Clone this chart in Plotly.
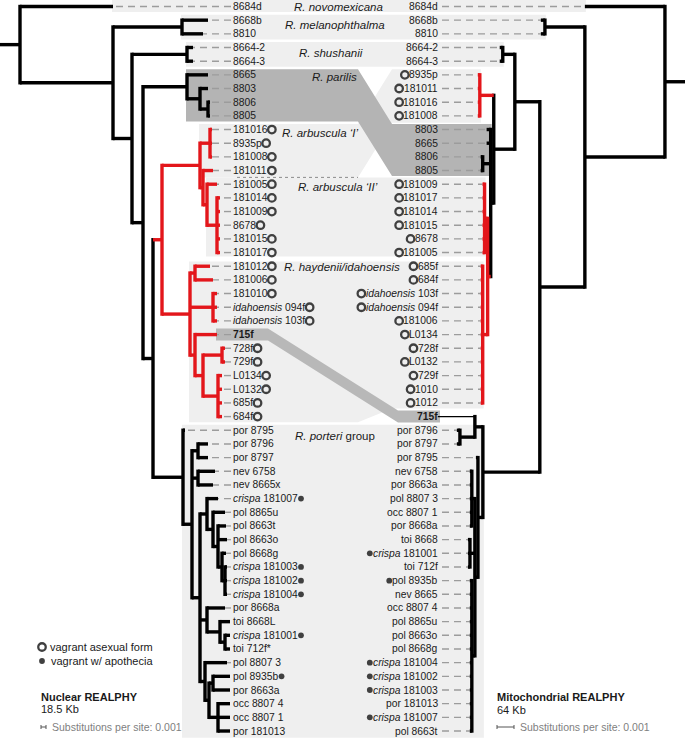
import re
import plotly.graph_objects as go

# ---------------- data ----------------
# branch lengths in units of 1e-4 substitutions per site
NUC_NEWICK = """
(8684d:186,
 ((8668b:52,8810:42)melL:138,
  ((8664-2:12,8664-3:12)shuL:110,
   ((8665:42,(8803:16,(8806:4,8805:4):16):26)parL:88,
    ((((181016:4,8935p:4,181008:4):20,
       (181011:20,(181005:20,(181014:6,181009:6,8678:6,181015:6,181017:6):20)arbIIL:8):6)arbIL:76,
      ((181012:30,181006:36):10,
       (181010:8,idahoensis 094f:8,idahoensis 103f:8):46,
       (715f:44,((728f:6,729f:6):38,(L0134:8,L0132:8,685f:8,684f:8):30):16):10)hayL:56)redL:18,
     (por 8795:4,
      ((por 8796:20,por 8797:20):12,
       (nev 6758:34,nev 8665x:30):12,
       ((crispa 181007:22,(pol 8865u:24,(pol 8663t:16,pol 8663o:18,(pol 8668g:8,(crispa 181003:4,crispa 181002:4,crispa 181004:4):6):8):10):12):14,
        (por 8668a:36,(toi 8668L:20,(crispa 181001:10,toi 712f*:10):10):26):14,
        (pol 8807 3:44,((pol 8935b:34,por 8663a:34):8,(occ 8807 4:24,occ 8807 1:24,por 181013:24):18):8):10):16):18)porL:60):20):22):38):186):40;
"""

MITO_NEWICK = """
(8684d:47.1,
 ((8668b:2.4,8810:2.4)melR:23.5,
  (((8664-2:1.8,8664-3:1.8)shuR:7.1,
    ((8935p:1.2,181011:1.2,181016:1.2,181008:1.2)redIR:8.2,
     (8803:2.4,8665:2.4,(8806:1.2,8805:1.2):4.7,
      ((181009:1.2,181017:1.2,181014:1.2,181015:1.2,8678:1.2,181005:1.2)arbIIR:1.8,
       (685f:1.2,684f:1.2,idahoensis 103f:1.2,idahoensis 094f:1.2,181006:1.2,L0134:1.2,728f:1.2,
        L0132:1.2,729f:1.2,1010:1.2,1012:1.2)hayR:2.9)RG:1.8):1.8):12.4):14.7,
   ((715f:21.8,(por 8796:1.8,por 8797:1.8):8.8):4.7,
    (por 8795:1.2,
     ((nev 6758:1.2,por 8663a:1.2,pol 8807 3:1.2,occ 8807 1:1.2,por 8668a:1.2):1.8,
      (toi 8668:1.2,crispa 181001:1.2,toi 712f:1.2):2.9,
      (pol 8935b:1.2,nev 8665:1.2,occ 8807 4:1.2,pol 8865u:1.2,pol 8663o:1.2,pol 8668g:1.2,
       crispa 181004:1.2,crispa 181002:1.2,crispa 181003:1.2,por 181013:1.2,crispa 181007:1.2,
       pol 8663t:1.2):1.8):1.8):2.9)porR:33.5):26.5):47.1):11.8;
"""

UNIT = 1e-4                 # substitutions per site per branch-length unit
SCALE_BAR = 0.001           # substitutions per site
RED_NODES = ["redL", "redIR", "RG"]

RINGS = ["181016", "8935p", "181008", "181011", "181005", "181014", "181009", "8678",
         "181015", "181017", "181012", "181006", "181010", "idahoensis 094f",
         "idahoensis 103f", "728f", "729f", "L0134", "L0132", "685f", "684f", "1010", "1012"]
DOTS = ["crispa 181007", "crispa 181003", "crispa 181002", "crispa 181004",
        "crispa 181001", "pol 8935b"]

GROUP_NAMES = ["<i>R. novomexicana</i>", "<i>R. melanophthalma</i>", "<i>R. shushanii</i>",
               "<i>R. parilis</i>", "<i>R. arbuscula ‘I’</i>", "<i>R. arbuscula ‘II’</i>",
               "<i>R. haydenii/idahoensis</i>", "<i>R. porteri</i> group"]
GROUP_LEFT = [
    ["8684d"], ["8668b", "8810"], ["8664-2", "8664-3"], ["8665", "8803", "8806", "8805"],
    ["181016", "8935p", "181008", "181011"],
    ["181005", "181014", "181009", "8678", "181015", "181017"],
    ["181012", "181006", "181010", "idahoensis 094f", "idahoensis 103f", "715f", "728f",
     "729f", "L0134", "L0132", "685f", "684f"],
    ["por 8795", "por 8796", "por 8797", "nev 6758", "nev 8665x", "crispa 181007",
     "pol 8865u", "pol 8663t", "pol 8663o", "pol 8668g", "crispa 181003", "crispa 181002",
     "crispa 181004", "por 8668a", "toi 8668L", "crispa 181001", "toi 712f*", "pol 8807 3",
     "pol 8935b", "por 8663a", "occ 8807 4", "occ 8807 1", "por 181013"],
]
GROUP_RIGHT = [
    ["8684d"], ["8668b", "8810"], ["8664-2", "8664-3"], ["8803", "8665", "8806", "8805"],
    ["8935p", "181011", "181016", "181008"],
    ["181009", "181017", "181014", "181015", "8678", "181005"],
    ["685f", "684f", "idahoensis 103f", "idahoensis 094f", "181006", "L0134", "728f",
     "L0132", "729f", "1010", "1012"],
    ["por 8796", "por 8797", "por 8795", "nev 6758", "por 8663a", "pol 8807 3", "occ 8807 1",
     "por 8668a", "toi 8668", "crispa 181001", "toi 712f", "pol 8935b", "nev 8665",
     "occ 8807 4", "pol 8865u", "pol 8663o", "pol 8668g", "crispa 181004", "crispa 181002",
     "crispa 181003", "por 181013", "crispa 181007", "pol 8663t"],
]

# ---------------- styling / layout constants ----------------
W, H = 685, 738
ROW0, STEP = 6.5, 13.67
PX_NUC = 5000.0     # px per substitution/site (0.001 -> 5 px)
PX_MITO = 17000.0   # 0.001 -> 17 px
LABEL_L, LABEL_R = 231, 440
CROSS = (358, 392)
FONT = "Liberation Sans, Arial, sans-serif"
LBL = 10.3
BLACK, RED = "#000000", "#e3161b"
LIGHT, DARK, BAND = "#efefef", "#b4b4b4", "#b8b8b8"
LW = 3.4
GROUP_SHADE = [LIGHT, LIGHT, LIGHT, DARK, LIGHT, LIGHT, LIGHT, LIGHT]
GROUP_INSET = [(0, 1.3), (1.3, 1.3), (1.3, 1.3), (1.3, 1.3), (1.3, 0), (0, 3), (2, 1.3), (1.3, 0)]
GROUP_LABEL_XY = [(338, 6.5), (335, 25), (331, 53), (334, 77), (320, 133), (338, 187),
                  (342, 267), (335, 436)]


def row_y(i):
    return ROW0 + i * STEP


def parse(s):
    s = re.sub(r"\s*([(),:;])\s*", r"\1", s.strip())
    pos = 0

    def node():
        nonlocal pos
        kids = []
        if s[pos] == "(":
            pos += 1
            while True:
                kids.append(node())
                ch = s[pos]
                pos += 1
                if ch == ")":
                    break
        st = pos
        while s[pos] not in ",():;":
            pos += 1
        name = s[st:pos].strip()
        ln = 0.0
        if s[pos] == ":":
            pos += 1
            st = pos
            while s[pos] not in ",();":
                pos += 1
            ln = float(s[st:pos])
        return {"name": name, "len": ln, "kids": kids}

    return node()


def place(tree, x0, sign, px_per_sub):
    tips = []

    def walk(n, xp, color, parent):
        n["xp"] = xp
        n["x"] = xp + sign * n["len"] * UNIT * px_per_sub
        n["parent"] = parent
        if n["name"] in RED_NODES:
            color = RED
        n["color"] = color
        if n["kids"]:
            for k in n["kids"]:
                walk(k, n["x"], color, n)
            n["y"] = (n["kids"][0]["y"] + n["kids"][-1]["y"]) / 2
        else:
            n["y"] = row_y(len(tips))
            tips.append(n)

    walk(tree, x0, BLACK, None)
    return tips


def all_nodes(n):
    yield n
    for k in n["kids"]:
        yield from all_nodes(k)


def lca(tipmap, names):
    paths = []
    for nm in names:
        p, n = [], tipmap[nm]
        while n is not None:
            p.append(n)
            n = n["parent"]
        paths.append(p[::-1])
    common = None
    for level in zip(*paths):
        if all(id(v) == id(level[0]) for v in level):
            common = level[0]
        else:
            break
    return common


nuc = parse(NUC_NEWICK)
mito = parse(MITO_NEWICK)
nuc_tips = place(nuc, 0, +1, PX_NUC)
mito_tips = place(mito, W, -1, PX_MITO)
nmap = {t["name"]: t for t in nuc_tips}
mmap = {t["name"]: t for t in mito_tips}

CW = {c: .556 for c in "0123456789"}
CW.update({" ": .278, "a": .556, "b": .556, "c": .5, "d": .556, "e": .556, "f": .278,
           "g": .556, "h": .556, "i": .222, "l": .222, "n": .556, "o": .556, "p": .556,
           "r": .333, "s": .5, "t": .278, "u": .556, "v": .5, "x": .5, "L": .556,
           "-": .333, "*": .389})


def text_w(s, size=LBL):
    return sum(CW.get(c, .556) for c in s) * size


def fmt(name):
    if name == "715f":
        return "<b>715f</b>"
    for w in ("crispa", "idahoensis"):
        if name.startswith(w + " "):
            return "<i>%s</i>%s" % (w, name[len(w):])
    return name


fig = go.Figure()
shapes, annotations = [], []


def ribbon(xl, yl0, yl1, xr, yr0, yr1, fill):
    c0, c1 = CROSS
    path = (f"M{xl},{yl0} L{c0},{yl0} L{c1},{yr0} L{xr},{yr0} L{xr},{yr1} "
            f"L{c1},{yr1} L{c0},{yl1} L{xl},{yl1} Z")
    return dict(type="path", path=path, fillcolor=fill, line=dict(width=0), layer="below")


# group boxes (light first, dark on top)
half = STEP / 2
order = sorted(range(len(GROUP_NAMES)), key=lambda i: GROUP_SHADE[i] == DARK)
for gi in order:
    lt = [nmap[n] for n in GROUP_LEFT[gi]]
    rt = [mmap[n] for n in GROUP_RIGHT[gi]]
    it, ib = GROUP_INSET[gi]
    xl = lca(nmap, GROUP_LEFT[gi])["x"] - 1
    xr = lca(mmap, GROUP_RIGHT[gi])["x"] + 1
    shapes.append(ribbon(xl, min(t["y"] for t in lt) - half + it, max(t["y"] for t in lt) + half - ib,
                         xr, min(t["y"] for t in rt) - half + it, max(t["y"] for t in rt) + half - ib,
                         GROUP_SHADE[gi]))

# 715f band linking the two positions
a, b, hb = nmap["715f"], mmap["715f"], 6
shapes.append(dict(type="path", fillcolor=BAND, line=dict(width=0), layer="below",
                   path=(f"M{a['x'] - 1},{a['y'] - hb} L268,{a['y'] - hb} L398,{b['y'] - hb} "
                         f"L{LABEL_R},{b['y'] - hb} L{LABEL_R},{b['y'] + hb} L398,{b['y'] + hb} "
                         f"L268,{a['y'] + hb} L{a['x'] - 1},{a['y'] + hb} Z")))

# dotted separator between arbuscula I and II
fig.add_trace(go.Scatter(x=[237, CROSS[0]], y=[row_y(12.5)] * 2, mode="lines",
                         line=dict(color="#8a8a8a", width=1, dash="dot"), hoverinfo="skip"))

# dashed leaders from tips to labels
dx, dy = [], []
for t in nuc_tips:
    if t["x"] < LABEL_L - 3:
        dx += [LABEL_L, t["x"], None]
        dy += [t["y"], t["y"], None]
for t in mito_tips:
    if t["x"] > LABEL_R + 4:
        dx += [LABEL_R + 2, t["x"], None]
        dy += [t["y"], t["y"], None]
fig.add_trace(go.Scatter(x=dx, y=dy, mode="lines", hoverinfo="skip",
                         line=dict(color="#9c9c9c", width=1.4, dash="7px,5px")))

# tree branches
segs = {}


def add(key, xs, ys):
    sx, sy = segs.setdefault(key, ([], []))
    sx += list(xs) + [None]
    sy += list(ys) + [None]


for tree, thin in ((nuc, set()), (mito, {"715f"})):
    for n in all_nodes(tree):
        w = 1.3 if n["name"] in thin and not n["kids"] else LW
        add((n["color"], w), [n["xp"], n["x"]], [n["y"], n["y"]])
        if n["kids"]:
            y0, y1 = n["kids"][0]["y"], n["kids"][-1]["y"]
            add((n["color"], LW), [n["x"], n["x"]], [y0 - LW / 2, y1 + LW / 2])
for (col, w), (sx, sy) in segs.items():
    fig.add_trace(go.Scatter(x=sx, y=sy, mode="lines", hoverinfo="skip",
                             line=dict(color=col, width=w)))

# tip labels and vagrant markers
rx, ry, ox, oy = [], [], [], []
for t in nuc_tips:
    nm = t["name"]
    annotations.append(dict(x=LABEL_L, y=t["y"], text=fmt(nm), xanchor="left", yanchor="middle",
                            showarrow=False, font=dict(size=LBL, color="#1a1a1a", family=FONT)))
    if nm in RINGS:
        rx.append(LABEL_L + 2 + text_w(nm) + 4.5)
        ry.append(t["y"])
    elif nm in DOTS:
        ox.append(LABEL_L + 2 + text_w(nm) + 3.3)
        oy.append(t["y"])
for t in mito_tips:
    nm = t["name"]
    annotations.append(dict(x=LABEL_R, y=t["y"], text=fmt(nm), xanchor="right", yanchor="middle",
                            showarrow=False, font=dict(size=LBL, color="#1a1a1a", family=FONT)))
    if nm in RINGS:
        rx.append(LABEL_R - 2 - text_w(nm) - 4.5)
        ry.append(t["y"])
    elif nm in DOTS:
        ox.append(LABEL_R - 2 - text_w(nm) - 3.5)
        oy.append(t["y"])

# legend markers
rx.append(42); ry.append(647)
ox.append(42); oy.append(661)
fig.add_trace(go.Scatter(x=rx, y=ry, mode="markers", hoverinfo="skip",
                         marker=dict(symbol="circle-open", size=7.5, color="#404040",
                                     line=dict(width=2.3, color="#404040"))))
fig.add_trace(go.Scatter(x=ox, y=oy, mode="markers", hoverinfo="skip",
                         marker=dict(symbol="circle", size=5.8, color="#404040")))

# group titles
for name, (gx, gy) in zip(GROUP_NAMES, GROUP_LABEL_XY):
    annotations.append(dict(x=gx, y=gy, text=name, showarrow=False, xanchor="center",
                            yanchor="middle", font=dict(size=11.5, color="#1a1a1a", family=FONT)))


def note(x, y, text, size=11, color="#1a1a1a"):
    annotations.append(dict(x=x, y=y, text=text, showarrow=False, xanchor="left", yanchor="middle",
                            font=dict(size=size, color=color, family=FONT)))


note(48, 647, "vagrant asexual form")
note(49, 661, "vagrant w/ apothecia")
note(39, 697, "<b>Nuclear REALPHY</b>")
note(39, 709, "18.5 Kb")
note(495, 697, "<b>Mitochondrial REALPHY</b>")
note(495, 710, "64 Kb")
note(50, 727, "Substitutions per site: %g" % SCALE_BAR, 10.5, "#808080")
note(518, 727, "Substitutions per site: %g" % SCALE_BAR, 10.5, "#808080")

# scale bars
for x0, px in ((41, PX_NUC), (497, PX_MITO)):
    x1 = x0 + SCALE_BAR * px
    fig.add_trace(go.Scatter(x=[x0, x1, None, x0, x0, None, x1, x1],
                             y=[727, 727, None, 725, 729, None, 725, 729],
                             mode="lines", hoverinfo="skip",
                             line=dict(color="#555555", width=1)))

fig.update_layout(
    width=W, height=H, margin=dict(l=0, r=0, t=0, b=0),
    paper_bgcolor="white", plot_bgcolor="white", showlegend=False,
    shapes=shapes, annotations=annotations,
    xaxis=dict(range=[0, W], visible=False, fixedrange=True),
    yaxis=dict(range=[H, 0], visible=False, fixedrange=True),
)

# the page body has a default 8px margin; drop it so the figure fills the window
fig.write_html("out.html", config={"displayModeBar": False},
               post_script="document.body.style.margin='0';")
